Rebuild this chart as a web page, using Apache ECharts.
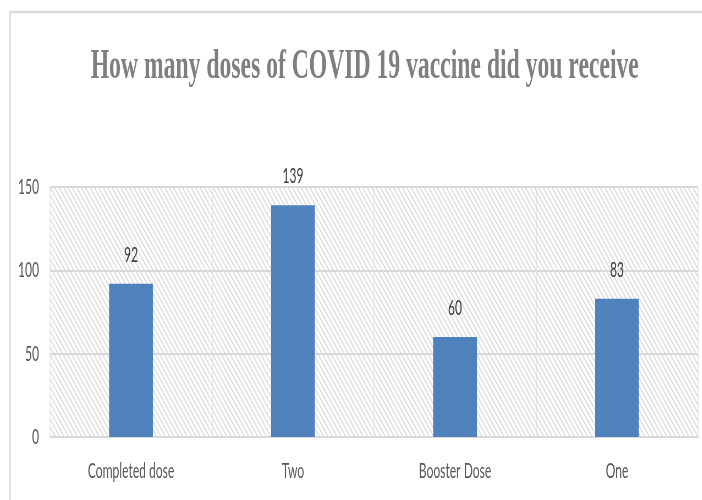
<!DOCTYPE html>
<html>
<head>
<meta charset="utf-8">
<script src="https://cdn.jsdelivr.net/npm/echarts@6/dist/echarts.min.js"></script>
<style>
html, body { margin: 0; padding: 0; overflow: hidden; background: #ffffff; width: 702px; height: 500px; }
#wrap { position: absolute; left: 0; top: 0; transform-origin: 0 0; }
</style>
</head>
<body>
<div id="wrap"></div>
<script>
// ---- data ----
const titleText = 'How many doses of COVID 19 vaccine did you receive';
const categories = ['Completed dose', 'Two', 'Booster Dose', 'One'];
const values = [92, 139, 60, 83];
const yTicks = [0, 50, 100, 150];

// ---- horizontal compression of the whole drawing (reference is squeezed) ----
const SX = 0.55;
const W = Math.round(702 / SX);
const H = 500;
const wrap = document.getElementById('wrap');
wrap.style.width = W + 'px';
wrap.style.height = H + 'px';
wrap.style.transform = 'scaleX(' + SX + ')';

// hatch pattern for the plot area
const pc = document.createElement('canvas');
pc.width = 8; pc.height = 8;
const g = pc.getContext('2d');
g.fillStyle = '#ffffff';
g.fillRect(0, 0, 8, 8);
g.strokeStyle = '#dcdcdc';
g.lineWidth = 1.6;
g.beginPath();
g.moveTo(-1, -1); g.lineTo(9, 9);
g.moveTo(-1, 7); g.lineTo(1, 9);
g.moveTo(7, -1); g.lineTo(9, 1);
g.stroke();

const chart = echarts.init(wrap, null, { renderer: 'canvas', width: W, height: H });

const labelFont = 'Lato';
const option = {
  animation: false,
  backgroundColor: '#ffffff',
  title: {
    text: titleText,
    left: 362 / SX,
    textAlign: 'center',
    top: 40,
    textStyle: {
      fontFamily: 'Liberation Serif',
      fontWeight: 'bold',
      fontSize: 43,
      color: '#7f7f7f'
    }
  },
  graphic: [{
    type: 'rect',
    z: -10,
    shape: { x: 10 / SX, y: 12, width: W, height: H },
    style: { fill: null, stroke: '#d9d9d9', lineWidth: 2.5 }
  }],
  grid: {
    show: true,
    left: 50 / SX,
    right: W - 698 / SX,
    top: 187,
    bottom: 63,
    borderWidth: 0,
    backgroundColor: { image: pc, repeat: 'repeat' }
  },
  xAxis: {
    type: 'category',
    data: categories,
    axisTick: { show: false },
    axisLine: { show: true, lineStyle: { color: '#d9d9d9', width: 2 } },
    splitLine: { show: true, lineStyle: { color: '#e3e3e3', width: 1.5 } },
    axisLabel: {
      margin: 23,
      fontFamily: labelFont,
      fontSize: 22,
      color: '#595959',
      interval: 0
    }
  },
  yAxis: {
    type: 'value',
    min: yTicks[0],
    max: yTicks[yTicks.length - 1],
    interval: 50,
    axisLine: { show: false },
    axisTick: { show: false },
    splitLine: { show: true, lineStyle: { color: '#d9d9d9', width: 2 } },
    axisLabel: {
      margin: 20,
      fontFamily: labelFont,
      fontSize: 22,
      color: '#595959'
    }
  },
  series: [{
    type: 'bar',
    data: values,
    barWidth: '27%',
    itemStyle: { color: '#4f81bd' },
    label: {
      show: true,
      position: 'top',
      distance: 18,
      fontFamily: labelFont,
      fontSize: 22,
      color: '#404040'
    }
  }]
};
chart.setOption(option);
</script>
</body>
</html>
